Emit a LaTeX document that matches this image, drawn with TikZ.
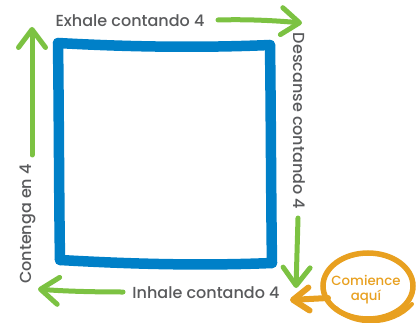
\documentclass[tikz,border=0pt]{standalone}
\usepackage{fontspec}
\setmainfont{Poppins}
\newfontfamily\medfont{Poppins Medium}
\usetikzlibrary{arrows.meta}
\definecolor{sqblue}{RGB}{0,128,200}
\definecolor{agreen}{RGB}{124,194,66}
\definecolor{aorange}{RGB}{232,160,32}
\definecolor{tgray}{RGB}{89,90,92}
\tikzset{
  sqline/.style={draw=sqblue, line width=10.5pt, line cap=round, line join=round},
  garrow/.style={draw=agreen, line width=5pt, line cap=round,
    -{Straight Barb[length=18pt,width=27pt,round]}},
  oarrow/.style={draw=aorange, line width=6pt, line cap=round,
    -{Straight Barb[length=16pt,width=23pt,round]}},
  label/.style={text=tgray, font=\medfont\fontsize{16}{18}\selectfont, inner sep=0pt},
  startlbl/.style={text=aorange, font=\medfont\fontsize{13.3}{15}\selectfont, align=center, inner sep=0pt}
}
\begin{document}
\begin{tikzpicture}[x=1pt,y=-1pt]
\useasboundingbox (0,0) rectangle (417,323);
% square corners
\coordinate (tl) at (58,43);
\coordinate (tr) at (270,45);
\coordinate (br) at (272,263);
\coordinate (bl) at (60,260);
\draw[sqline] (tl) .. controls (130,47) and (200,48) .. (tr);
\draw[sqline] (tr) .. controls (271,120) and (271,200) .. (br);
\draw[sqline] (bl) .. controls (130,264) and (200,266) .. (br);
\draw[sqline] (tl) .. controls (59,120) and (59,200) .. (bl);
% labels
\node[label] (exhale) at (130,21) {Exhale contando 4};
\node[label, rotate=-90] (descanse) at (299,121) {Descanse contando 4};
\node[label] (inhale) at (206,293) {Inhale contando 4};
\node[label, rotate=90] (contenga) at (28,224) {Contenga en 4};
% green arrows
\coordinate (a1s) at (32,155);
\coordinate (a1e) at (32,27);
\coordinate (a2s) at (218,20);
\coordinate (a2e) at (302,23);
\coordinate (a3s) at (298,218);
\coordinate (a3e) at (296,288);
\coordinate (a4s) at (123,292);
\coordinate (a4e) at (38,289);
\draw[garrow] (a1s) -- (a1e);
\draw[garrow] (a2s) .. controls (250,19) and (280,21) .. (a2e);
\draw[garrow] (a3s) -- (a3e);
\draw[garrow] (a4s) .. controls (90,292) and (60,291) .. (a4e);
% start circle
\node[startlbl] (start) at (366,290) {Comience\\aquí};
\draw[aorange, line width=5.5pt] (368,286) ellipse [x radius=45, y radius=33];
\draw[aorange, line width=4pt, line cap=round] (336,308) .. controls (352,326) and (392,327) .. (412,304);
\coordinate (os) at (328,298);
\coordinate (oe) at (290,300);
\draw[oarrow] (os) -- (oe);
\end{tikzpicture}
\end{document}
